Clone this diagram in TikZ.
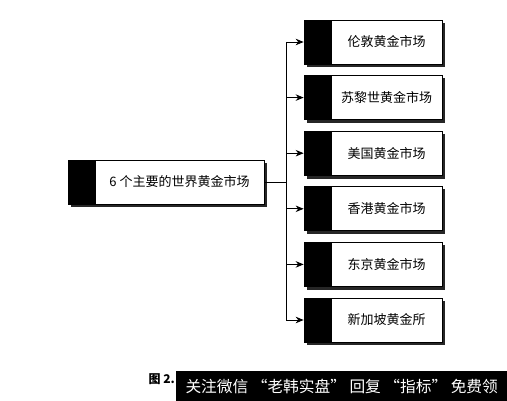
\documentclass[tikz,border=0pt]{standalone}
\usepackage{fontspec}
\newfontfamily\cjk{Noto Sans CJK SC}
\usetikzlibrary{arrows.meta,positioning,backgrounds}
\begin{document}
\begin{tikzpicture}[x=1pt,y=-1pt,
  whitebox/.style={draw=black, line width=0.9pt, fill=white, minimum height=44pt, inner sep=0pt,
    font=\cjk\fontsize{13}{13}\selectfont},
  band/.style={draw=black, line width=0.9pt, fill=black, minimum width=26pt, minimum height=44pt, inner sep=0pt},
  shadowfill/.style={fill=black!85},
  conn/.style={draw=black, line width=0.8pt},
  arr/.style={conn, -{Stealth[length=8pt,width=6.5pt]}}
]
\useasboundingbox (0,0) rectangle (507,401);
% left box
\node[whitebox, minimum width=169pt] (m) at (179.5,182) {6 个主要的世界黄金市场};
\node[band, left=0pt of m] (mb) {};
% right boxes
\foreach \i/\t in {1/伦敦黄金市场,2/苏黎世黄金市场,3/美国黄金市场,4/香港黄金市场,5/东京黄金市场,6/新加坡黄金所}{
  \node[whitebox, minimum width=111pt] (r\i) at (386.5,{42+55.6*(\i-1)}) {\t};
  \node[band, left=0pt of r\i] (b\i) {};
}
\begin{scope}[on background layer]
  \fill[shadowfill] ([shift={(3,3)}]mb.north west) rectangle ([shift={(3,3)}]m.south east);
  \foreach \i in {1,...,6}{
    \fill[shadowfill] ([shift={(3,3)}]b\i.north west) rectangle ([shift={(3,3)}]r\i.south east);
  }
\end{scope}
% connectors
\coordinate (j) at (286,182);
\draw[conn] (m.east) -- (j);
\draw[conn] (b1.west -| j) -- (b6.west -| j);
\foreach \i in {1,...,6}{
  \draw[arr] (b\i.west -| j) -- (b\i.west);
}
% caption
\node[font=\cjk\bfseries\fontsize{12}{12}\selectfont, anchor=west] (cap) at (145,379) {图 2.};
\node[fill=black, text=white, anchor=north west, minimum width=331pt, minimum height=30pt, inner sep=0pt,
  font=\cjk\fontsize{15.7}{16}\selectfont] (wm) at (176,371) {关注微信 “老韩实盘” 回复 “指标” 免费领};
\end{tikzpicture}
\end{document}
